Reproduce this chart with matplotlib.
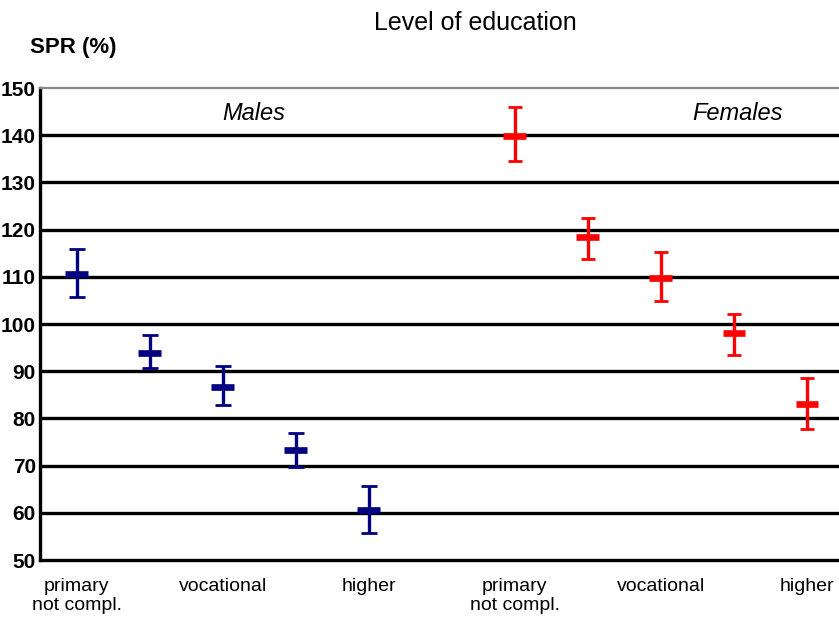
import matplotlib
matplotlib.use("Agg")
import matplotlib.pyplot as plt

plt.rcParams['font.family'] = ['Liberation Sans', 'DejaVu Sans']

# Standardised prevalence ratios (%) with 95% confidence limits
males_spr = [110.5, 93.8, 86.6, 73.4, 60.6]
males_lo = [105.7, 90.6, 82.8, 69.8, 55.7]
males_hi = [115.8, 97.7, 91.2, 77.0, 65.7]

females_spr = [139.8, 118.4, 109.8, 98.1, 83.1]
females_lo = [134.5, 113.7, 104.9, 93.5, 77.8]
females_hi = [146.0, 122.4, 115.2, 102.1, 88.5]

males_x = [0, 1, 2, 3, 4]
females_x = [6, 7, 8, 9, 10]

label_x = [0, 2, 4, 6, 8, 10]
label_text = ["primary\nnot compl.", "vocational", "higher",
              "primary\nnot compl.", "vocational", "higher"]

y_ticks = [50, 60, 70, 80, 90, 100, 110, 120, 130, 140, 150]

fig = plt.figure(figsize=(8.39, 6.19), dpi=100)
ax = fig.add_axes([40 / 839, 1 - 560 / 619, 1 - 40 / 839, (560 - 88) / 619])

ax.set_xlim(-0.5, 10.44)
ax.set_ylim(50, 150)

# horizontal reference lines
for t in y_ticks[1:-1]:
    ax.axhline(t, color='black', lw=2.4, zorder=1)


def draw_group(xs, v, lo, hi, color, capsize):
    yerr = [[a - b for a, b in zip(v, lo)], [b - a for a, b in zip(v, hi)]]
    ax.errorbar(xs, v, yerr=yerr, fmt='none', ecolor=color, elinewidth=2.4,
                capsize=capsize, capthick=2.0, zorder=3)
    # short thick horizontal bar marking the point estimate
    for x, y in zip(xs, v):
        ax.plot([x - 0.155, x + 0.155], [y, y], color=color,
                lw=4.8, solid_capstyle='butt', zorder=4)


draw_group(males_x, males_spr, males_lo, males_hi, '#000080', 6.1)
draw_group(females_x, females_spr, females_lo, females_hi, '#ff0000', 4.7)

ax.set_yticks(y_ticks)
ax.set_yticklabels([str(t) for t in y_ticks], fontsize=15, fontweight='bold')
ax.tick_params(axis='y', length=0, pad=3)

ax.set_xticks(label_x)
ax.set_xticklabels(label_text, fontsize=14, linespacing=1.15)
ax.tick_params(axis='x', length=0, pad=13)

ax.spines['right'].set_visible(False)
ax.spines['top'].set_color('#888888')
ax.spines['top'].set_linewidth(1.6)
ax.spines['left'].set_linewidth(2.4)
ax.spines['bottom'].set_linewidth(2.4)

ax.text(2.43, 144.5, "Males", fontsize=17, style='italic', ha='center', va='center')
ax.text(9.05, 144.5, "Females", fontsize=17, style='italic', ha='center', va='center')

fig.text(475 / 839, 1 - 23 / 619, "Level of education", fontsize=18,
         ha='center', va='center')
fig.text(30 / 839, 1 - 48 / 619, "SPR (%)", fontsize=16, fontweight='bold',
         ha='left', va='center')

fig.savefig("out.png", dpi=100)
